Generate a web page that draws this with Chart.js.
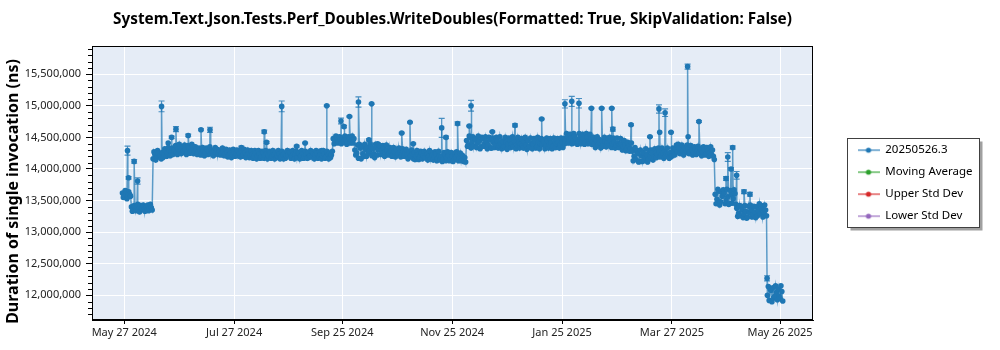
<!DOCTYPE html>
<html>
<head>
<meta charset="utf-8">
<title>WriteDoubles</title>
<script src="https://cdn.jsdelivr.net/npm/chart.js@4.4.1/dist/chart.umd.min.js"></script>
<style>
    html, body { margin: 0; padding: 0; background: #ffffff; }
</style>
</head>
<body>
<canvas id="myChartCanvasDuracao" width="1000" height="350"></canvas>
<script>
// Dados do gráfico - dias contados a partir de 27/05/2024 (dia 0)
const tituloGrafico = 'System.Text.Json.Tests.Perf_Doubles.WriteDoubles(Formatted: True, SkipValidation: False)';
const tituloEixoY = 'Duration of single invocation (ns)';
const nomesSeries = ['20250526.3', 'Moving Average', 'Upper Std Dev', 'Lower Std Dev'];
const coresSeries = ['#1f77b4', '#2ca02c', '#d62728', '#9467bd'];

const dataZero = '2024-05-27';
const primeiroDiaBase = -1;

// primeira medição de cada dia
const valoresBase = [
    13620000, 13580000, 13650000, 13560000, 13600000, // -1..3
    13400000, 13370000, 13350000, 13390000, 13360000, 13420000, 13380000, 13350000, 13400000, 13430000, 13370000, 13390000, // 4..15
    14160000, 14230000, 14180000, 14250000, 14210000, // 16..20
    14260000, 14220000, 14290000, 14250000, 14300000, 14270000, 14230000, // 21..27
    14300000, 14260000, 14320000, 14280000, 14350000, 14290000, 14310000, 14270000, 14330000, 14300000, 14360000, 14280000, 14310000, // 28..40
    14270000, 14300000, 14250000, 14290000, 14260000, 14310000, 14280000, 14240000, 14270000, 14300000, 14260000, 14230000, 14280000, 14250000, 14270000, // 41..55
    14240000, 14260000, 14220000, 14250000, 14230000, 14270000, 14240000, 14210000, 14250000, 14280000, 14230000, 14260000, 14220000, 14240000, 14210000, // 56..70
    14230000, 14200000, 14250000, 14210000, 14240000, 14190000, 14260000, 14220000, 14240000, 14210000, // 71..80
    14250000, 14200000, 14230000, 14260000, 14210000, 14240000, 14190000, 14230000, 14250000, 14210000, // 81..90
    14220000, 14260000, 14200000, 14240000, 14230000, 14180000, 14250000, 14210000, 14240000, 14200000, // 91..100
    14230000, 14260000, 14210000, 14190000, 14240000, 14220000, 14250000, 14200000, 14230000, 14210000, // 101..110
    14240000, 14190000, 14230000, 14250000, 14220000, // 111..115
    14480000, 14450000, 14500000, 14430000, 14470000, 14490000, 14440000, 14460000, 14420000, 14480000, 14450000, 14410000, // 116..127
    14300000, 14250000, 14170000, 14330000, 14360000, 14200000, 14310000, 14340000, 14280000, 14350000, 14320000, 14180000, 14340000, 14300000, 14360000, 14290000, 14330000, 14270000, // 128..145
    14300000, 14250000, 14280000, 14230000, 14270000, 14310000, 14240000, 14260000, 14220000, 14280000, // 146..155
    14250000, 14230000, 14270000, 14210000, 14240000, 14260000, 14200000, 14230000, 14190000, 14250000, // 156..165
    14210000, 14180000, 14230000, 14200000, 14160000, 14220000, 14190000, 14240000, 14170000, 14210000, // 166..175
    14200000, 14150000, 14230000, 14180000, 14210000, 14160000, 14200000, 14140000, 14190000, 14230000, // 176..185
    14170000, 14130000, 14200000, 14180000, // 186..189
    14450000, 14380000, 14500000, 14420000, 14360000, 14470000, 14410000, 14440000, 14350000, 14480000, // 190..199
    14400000, 14430000, 14380000, 14460000, 14330000, 14420000, 14390000, 14450000, 14370000, 14410000, // 200..209
    14440000, 14360000, 14420000, 14390000, 14460000, 14400000, 14350000, 14430000, 14380000, 14420000, // 210..219
    14400000, 14370000, 14430000, 14380000, 14450000, 14360000, 14410000, 14390000, 14440000, 14350000, 14420000, 14400000, // 220..231
    14380000, 14430000, 14370000, 14450000, 14390000, 14410000, 14360000, 14440000, 14400000, 14420000, 14380000, 14430000, // 232..243
    14480000, 14450000, 14510000, 14460000, 14490000, 14440000, 14520000, 14470000, 14430000, 14500000, 14460000, 14480000, 14420000, 14500000, 14450000, 14470000, // 244..259
    14430000, 14400000, 14460000, 14380000, 14420000, 14450000, 14390000, 14430000, 14410000, 14370000, 14440000, 14400000, 14420000, 14380000, 14410000, 14390000, // 260..275
    14400000, 14350000, 14380000, 14330000, 14360000, 14320000, // 276..281
    14280000, 14200000, 14150000, 14240000, 14120000, 14210000, 14260000, 14180000, 14230000, 14150000, 14200000, 14250000, 14190000, // 282..294
    14260000, 14230000, 14270000, 14220000, 14250000, 14280000, 14240000, 14230000, 14260000, 14210000, // 295..304
    14290000, 14310000, 14270000, 14330000, 14300000, 14280000, 14340000, 14290000, 14320000, 14270000, // 305..314
    14300000, 14260000, 14310000, 14280000, 14250000, 14300000, 14270000, 14310000, 14240000, 14290000, // 315..324
    14260000, 14230000, 14200000, // 325..327
    13600000, 13520000, 13650000, 13480000, 13570000, 13620000, 13500000, 13560000, 13450000, 13590000, 13530000, 13610000, // 328..339
    13380000, 13300000, 13260000, 13350000, 13290000, 13330000, 13240000, 13310000, 13360000, 13280000, 13320000, 13400000, 13340000, 13290000, 13370000, 13310000, 13350000, // 340..356
    12000000, 11920000, 12080000, 12120000, 11980000, 12050000, 12100000, 11950000, 12060000 // 357..365
];

// segunda medição de cada dia (meio-dia depois)
const valoresBase2 = [
    13550000, 13660000, 13530000, 13640000, 13570000, // -1..3
    13330000, 13420000, 13340000, 13440000, 13320000, 13370000, 13430000, 13330000, 13410000, 13340000, 13440000, 13350000, // 4..15
    14270000, 14140000, 14290000, 14190000, 14160000, // 16..20
    14180000, 14320000, 14200000, 14340000, 14210000, 14330000, 14290000, // 21..27
    14370000, 14230000, 14390000, 14240000, 14260000, 14380000, 14230000, 14370000, 14250000, 14390000, 14240000, 14350000, 14230000, // 28..40
    14330000, 14220000, 14340000, 14210000, 14330000, 14230000, 14350000, 14300000, 14210000, 14340000, 14310000, 14300000, 14220000, 14330000, 14210000, // 41..55
    14310000, 14190000, 14300000, 14180000, 14310000, 14200000, 14300000, 14290000, 14190000, 14200000, 14310000, 14180000, 14300000, 14180000, 14290000, // 56..70
    14170000, 14290000, 14160000, 14290000, 14170000, 14280000, 14170000, 14290000, 14160000, 14280000, // 71..80
    14170000, 14290000, 14160000, 14180000, 14290000, 14160000, 14280000, 14160000, 14170000, 14290000, // 81..90
    14280000, 14170000, 14290000, 14160000, 14280000, 14260000, 14160000, 14290000, 14170000, 14280000, // 91..100
    14170000, 14180000, 14290000, 14270000, 14160000, 14290000, 14170000, 14280000, 14160000, 14290000, // 101..110
    14170000, 14280000, 14160000, 14180000, 14280000, // 111..115
    14400000, 14520000, 14410000, 14510000, 14400000, 14420000, 14520000, 14390000, 14510000, 14410000, 14520000, 14480000, // 116..127
    14220000, 14380000, 14390000, 14160000, 14240000, 14390000, 14200000, 14250000, 14400000, 14210000, 14240000, 14390000, 14220000, 14380000, 14230000, 14370000, 14200000, 14380000, // 128..145
    14220000, 14340000, 14200000, 14340000, 14190000, 14220000, 14330000, 14190000, 14320000, 14200000, // 146..155
    14310000, 14160000, 14190000, 14300000, 14160000, 14150000, 14290000, 14150000, 14280000, 14160000, // 156..165
    14280000, 14250000, 14140000, 14290000, 14260000, 14140000, 14270000, 14130000, 14280000, 14140000, // 166..175
    14120000, 14260000, 14130000, 14270000, 14130000, 14260000, 14120000, 14250000, 14270000, 14130000, // 176..185
    14250000, 14220000, 14120000, 14110000, // 186..189
    14360000, 14520000, 14330000, 14510000, 14480000, 14340000, 14520000, 14320000, 14500000, 14360000, // 190..199
    14510000, 14320000, 14500000, 14330000, 14490000, 14340000, 14500000, 14330000, 14510000, 14320000, // 200..209
    14340000, 14500000, 14310000, 14490000, 14340000, 14510000, 14470000, 14320000, 14500000, 14330000, // 210..219
    14480000, 14330000, 14500000, 14310000, 14340000, 14490000, 14320000, 14480000, 14330000, 14500000, 14320000, 14480000, // 220..231
    14460000, 14320000, 14490000, 14330000, 14480000, 14320000, 14490000, 14340000, 14480000, 14330000, 14490000, 14340000, // 232..243
    14400000, 14560000, 14410000, 14550000, 14400000, 14560000, 14410000, 14390000, 14560000, 14400000, 14550000, 14390000, 14560000, 14400000, 14550000, 14390000, // 244..259
    14500000, 14340000, 14510000, 14470000, 14330000, 14360000, 14500000, 14350000, 14490000, 14500000, 14340000, 14490000, 14330000, 14490000, 14340000, 14480000, // 260..275
    14300000, 14450000, 14290000, 14420000, 14280000, 14410000, // 276..281
    14130000, 14340000, 14290000, 14110000, 14300000, 14120000, 14130000, 14320000, 14110000, 14290000, 14300000, 14140000, 14320000, // 282..294
    14180000, 14330000, 14190000, 14330000, 14170000, 14200000, 14330000, 14170000, 14190000, 14330000, // 295..304
    14220000, 14380000, 14390000, 14240000, 14380000, 14220000, 14260000, 14380000, 14240000, 14370000, // 305..314
    14220000, 14350000, 14230000, 14360000, 14320000, 14210000, 14350000, 14220000, 14340000, 14200000, // 315..324
    14350000, 14300000, 14150000, // 325..327
    13450000, 13680000, 13430000, 13640000, 13670000, 13450000, 13680000, 13440000, 13660000, 13460000, 13670000, 13440000, // 328..339
    13250000, 13420000, 13410000, 13230000, 13420000, 13220000, 13410000, 13430000, 13240000, 13410000, 13230000, 13260000, 13450000, 13420000, 13240000, 13430000, 13260000, // 340..356
    12140000, 12100000, 11900000, 11960000, 12150000, 11930000, 11990000, 12150000, 11910000 // 357..365
];

// medições extras (picos) com desvio
const picosDias = [1.8, 2.4, 5.5, 7.4, 20.7, 24.4, 26.3, 28.7, 35.5, 42.6, 47.6, 65.0,
    77.7, 79.0, 87.4, 95.7, 100.4, 109.6, 112.4, 120.3, 122.0, 125.0, 130.0, 135.8, 137.3, 140.7,
    154.0, 158.6, 160.4, 176.2, 178.6, 185.0, 191.5, 192.5, 204.3, 216.9, 231.7,
    244.6, 248.4, 252.4, 259.3, 265.0, 270.6, 271.2, 281.3, 291.8, 296.8, 297.2, 300.2, 303.5,
    312.7, 313.0, 319.0, 334.0, 335.0, 336.8, 337.7, 339.9, 344.0, 347.3, 356.8];
const picosValores = [14290000, 13860000, 14120000, 13810000, 14990000, 14410000, 14500000, 14630000, 14530000, 14620000, 14620000, 14340000,
    14590000, 14420000, 14990000, 14360000, 14410000, 14290000, 15000000, 14760000, 14670000, 14830000, 15060000, 14460000, 15030000, 14400000,
    14570000, 14740000, 14400000, 14650000, 14500000, 14720000, 14680000, 15000000, 14590000, 14690000, 14790000,
    15030000, 15070000, 15040000, 14960000, 14960000, 14960000, 14630000, 14700000, 14510000, 14950000, 14580000, 14890000, 14580000,
    15620000, 14510000, 14750000, 13850000, 14190000, 14000000, 14340000, 13900000, 13640000, 13600000, 12270000];
const picosErros = [70000, 20000, 30000, 50000, 85000, 0, 20000, 40000, 20000, 15000, 40000, 20000,
    25000, 15000, 85000, 15000, 10000, 0, 10000, 45000, 20000, 10000, 80000, 15000, 10000, 10000,
    10000, 10000, 10000, 150000, 20000, 25000, 10000, 85000, 10000, 25000, 10000,
    65000, 80000, 75000, 10000, 10000, 10000, 30000, 15000, 10000, 65000, 0, 60000, 10000,
    40000, 0, 15000, 30000, 70000, 20000, 25000, 60000, 30000, 30000, 40000];

const xTicksDatas = ['2024-05-27', '2024-07-27', '2024-09-25', '2024-11-25', '2025-01-25', '2025-03-27', '2025-05-26'];
const xTicksRotulos = ['May 27 2024', 'Jul 27 2024', 'Sep 25 2024', 'Nov 25 2024', 'Jan 25 2025', 'Mar 27 2025', 'May 26 2025'];
const yTicks = [12000000, 12500000, 13000000, 13500000, 14000000, 14500000, 15000000, 15500000];

function diasDesde(iso) {
    return (Date.parse(iso) - Date.parse(dataZero)) / 86400000;
}

// juntando as medições em ordem de dia
let pontos = [];
valoresBase.forEach(function (v, i) {
    pontos.push({ x: primeiroDiaBase + i, y: v, erro: 0 });
});
valoresBase2.forEach(function (v, i) {
    pontos.push({ x: primeiroDiaBase + i + 0.5, y: v, erro: 0 });
});
picosDias.forEach(function (d, i) {
    pontos.push({ x: d, y: picosValores[i], erro: picosErros[i] });
});
pontos.sort(function (a, b) { return a.x - b.x; });

function criarMarcador(cor) {
    const c = document.createElement('canvas');
    c.width = 22;
    c.height = 8;
    const g = c.getContext('2d');
    g.globalAlpha = 0.75;
    g.strokeStyle = cor;
    g.lineWidth = 1.5;
    g.beginPath();
    g.moveTo(0, 4);
    g.lineTo(22, 4);
    g.stroke();
    g.globalAlpha = 1;
    g.fillStyle = cor;
    g.beginPath();
    g.arc(11, 4, 2.6, 0, Math.PI * 2);
    g.fill();
    return c;
}
const marcadores = coresSeries.map(criarMarcador);

// fundo da área do gráfico e caixa da legenda
const pluginFundo = {
    id: 'fundo',
    beforeDraw: function (chart) {
        const ctx = chart.ctx;
        const a = chart.chartArea;
        ctx.save();
        ctx.fillStyle = '#e5ecf6';
        ctx.fillRect(a.left, a.top, a.right - a.left, a.bottom - a.top);

        const leg = chart.legend;
        if (leg && leg.legendHitBoxes && leg.legendHitBoxes.length) {
            const hb = leg.legendHitBoxes;
            const x = Math.round(leg.left) + 0.5;
            const y = Math.round(hb[0].top - 6) + 0.5;
            const h = Math.round(hb[hb.length - 1].top + hb[hb.length - 1].height + 6 - y);
            const w = 132;
            ctx.fillStyle = '#a0a0a0';
            ctx.fillRect(x + 3, y + 3, w, h);
            ctx.fillStyle = '#ffffff';
            ctx.fillRect(x, y, w, h);
            ctx.strokeStyle = '#404040';
            ctx.lineWidth = 1;
            ctx.strokeRect(x, y, w, h);
        }
        ctx.restore();
    }
};

// barras de erro
const pluginBarrasErro = {
    id: 'barrasErro',
    beforeDatasetsDraw: function (chart) {
        const ctx = chart.ctx;
        const a = chart.chartArea;
        const escalaY = chart.scales.y;
        const meta = chart.getDatasetMeta(0);
        ctx.save();
        ctx.beginPath();
        ctx.rect(a.left, a.top, a.right - a.left, a.bottom - a.top);
        ctx.clip();
        ctx.strokeStyle = 'rgba(31, 119, 180, 0.8)';
        ctx.lineWidth = 1.2;
        chart.data.datasets[0].data.forEach(function (p, i) {
            if (!p.erro) return;
            const px = meta.data[i].x;
            const yTopo = escalaY.getPixelForValue(p.y + p.erro);
            const yBase = escalaY.getPixelForValue(p.y - p.erro);
            ctx.beginPath();
            ctx.moveTo(px, yTopo);
            ctx.lineTo(px, yBase);
            ctx.moveTo(px - 3, yTopo);
            ctx.lineTo(px + 3, yTopo);
            ctx.moveTo(px - 3, yBase);
            ctx.lineTo(px + 3, yBase);
            ctx.stroke();
        });
        ctx.restore();
    }
};

// moldura e ticks menores do eixo y
const pluginMoldura = {
    id: 'moldura',
    afterDraw: function (chart) {
        const ctx = chart.ctx;
        const a = chart.chartArea;
        const escalaY = chart.scales.y;
        ctx.save();
        ctx.strokeStyle = '#000000';
        ctx.lineWidth = 1;
        ctx.strokeRect(Math.round(a.left) + 0.5, Math.round(a.top) + 0.5, Math.round(a.right - a.left) - 1, Math.round(a.bottom - a.top) - 1);
        ctx.beginPath();
        for (let v = 11700000; v <= 15900000; v += 100000) {
            if (v % 500000 === 0) continue;
            const py = Math.round(escalaY.getPixelForValue(v)) + 0.5;
            ctx.moveTo(a.left - 4, py);
            ctx.lineTo(a.left, py);
        }
        ctx.stroke();
        ctx.restore();
    }
};

Chart.defaults.font.family = '"Noto Sans", sans-serif';
Chart.defaults.color = '#222222';

let chartData = {
    datasets: [{
        label: nomesSeries[0],
        data: pontos,
        borderColor: 'rgba(31, 119, 180, 0.7)',
        borderWidth: 1.5,
        pointRadius: 2.8,
        pointBorderWidth: 0,
        pointBackgroundColor: coresSeries[0],
        tension: 0
    },
    {
        label: nomesSeries[1],
        data: [],
        borderColor: coresSeries[1],
        backgroundColor: coresSeries[1]
    },
    {
        label: nomesSeries[2],
        data: [],
        borderColor: coresSeries[2],
        backgroundColor: coresSeries[2]
    },
    {
        label: nomesSeries[3],
        data: [],
        borderColor: coresSeries[3],
        backgroundColor: coresSeries[3]
    }
    ]
};

const config = {
    type: 'line',
    data: chartData,
    options: {
        responsive: false,
        animation: false,
        events: [],
        layout: {
            padding: { left: 0, right: 28, top: 0, bottom: 0 }
        },
        scales: {
            x: {
                type: 'linear',
                min: -17.9,
                max: 382.3,
                afterBuildTicks: function (escala) {
                    escala.ticks = xTicksDatas.map(function (d) { return { value: diasDesde(d) }; });
                },
                afterFit: function (escala) { escala.height = 30; },
                ticks: {
                    callback: function (valor, indice) { return xTicksRotulos[indice]; },
                    autoSkip: false,
                    maxRotation: 0,
                    padding: 2,
                    color: '#222222',
                    font: { size: 11 }
                },
                grid: { color: '#ffffff', tickColor: '#000000', tickLength: 4 },
                border: { color: '#000000', width: 1 }
            },
            y: {
                type: 'linear',
                min: 11610000,
                max: 15940000,
                afterBuildTicks: function (escala) {
                    escala.ticks = yTicks.map(function (v) { return { value: v }; });
                },
                afterFit: function (escala) { escala.width = 92; },
                ticks: {
                    callback: function (valor) { return valor.toLocaleString('en-US'); },
                    padding: 5,
                    color: '#222222',
                    font: { size: 11 }
                },
                grid: { color: '#ffffff', tickColor: '#000000', tickLength: 6 },
                border: { color: '#000000', width: 1 },
                title: {
                    display: true,
                    text: tituloEixoY + '    ',
                    color: '#000000',
                    font: { size: 16, weight: 'bold' },
                    padding: { top: 4, bottom: 0 }
                }
            },
            folga: {
                type: 'linear',
                position: 'right',
                display: true,
                afterFit: function (escala) { escala.width = 34; },
                ticks: { display: false },
                grid: { display: false },
                border: { display: false }
            }
        },
        plugins: {
            title: {
                display: true,
                fullSize: false,
                text: tituloGrafico,
                color: '#000000',
                font: { size: 15.3, weight: 'bold' },
                padding: { top: 10, bottom: 18 }
            },
            legend: {
                position: 'right',
                fullSize: false,
                maxWidth: 125,
                labels: {
                    usePointStyle: true,
                    pointStyleWidth: 22,
                    padding: 10.5,
                    color: '#000000',
                    font: { size: 11.5 },
                    generateLabels: function (chart) {
                        const itens = Chart.defaults.plugins.legend.labels.generateLabels(chart);
                        itens.forEach(function (item, i) { item.pointStyle = marcadores[i]; });
                        return itens;
                    }
                }
            },
            tooltip: { enabled: false }
        }
    },
    plugins: [pluginFundo, pluginBarrasErro, pluginMoldura]
};

let myChart = new Chart(
    document.getElementById('myChartCanvasDuracao'),
    config
);
</script>
</body>
</html>
